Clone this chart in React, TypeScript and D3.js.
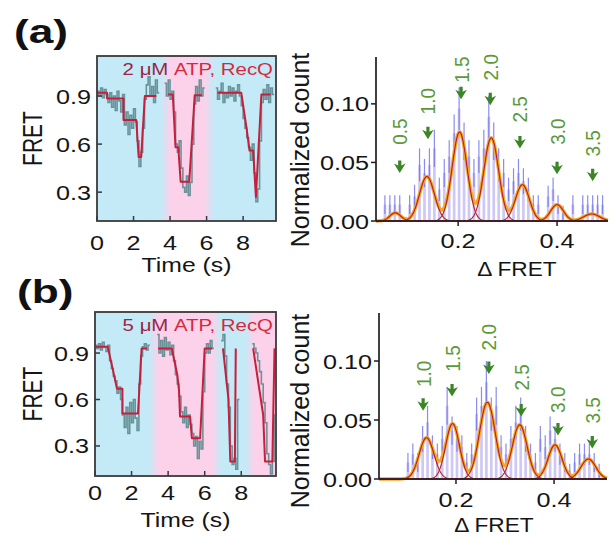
import React from "react";
import * as d3 from "d3";

const FONT = "'Liberation Sans', Arial, Helvetica, sans-serif";

// ---------------- DATA ----------------
const timeTicks = [0, 2, 4, 6, 8];
const fretTicks = [0.3, 0.6, 0.9];
const countTicks = [0, 0.05, 0.1];
const countTickLabels = ["0.00", "0.05", "0.10"];
const dfretTicks = [0.2, 0.4];
const DT = 0.1;

// background bands (time, s): c = cyan, p = pink
const bandsA = [
  { from: 0, to: 3.75, kind: "c" },
  { from: 3.75, to: 6.15, kind: "p" },
  { from: 6.15, to: 9.8, kind: "c" },
];
const bandsB = [
  { from: 0, to: 3.2, kind: "c" },
  { from: 3.2, to: 6.65, kind: "p" },
  { from: 6.65, to: 8.45, kind: "c" },
  { from: 8.45, to: 9.9, kind: "p" },
];

// raw FRET traces (segments starting at t0, sampled every DT)
const rawA = [
  { t0: 0, v: [0.93, 0.9, 0.95, 0.89, 0.94, 0.91, 0.86, 0.92, 0.83, 0.9, 0.81, 0.93, 0.87, 0.8, 0.91, 0.72, 0.8, 0.66, 0.78, 0.7, 0.82, 0.74, 0.62, 0.46, 0.55, 0.7, 0.88, 0.97, 1.02, 0.9, 0.96, 0.86, 1.0, 0.92] },
  { t0: 3.7, v: [0.98, 0.9, 1.0, 0.88, 0.93, 0.8, 0.6, 0.55, 0.62, 0.45, 0.33, 0.3, 0.4, 0.28, 0.36, 0.6, 0.85, 0.96, 0.87, 1.0, 0.9, 0.95] },
  { t0: 6.5, v: [0.95, 0.88, 0.93, 0.98, 0.86, 0.92, 0.89, 0.96, 0.9, 0.95, 0.87, 0.93, 0.97, 0.9, 0.84, 0.76, 0.7, 0.64, 0.58, 0.5, 0.6, 0.42, 0.24, 0.32, 0.62, 0.86, 0.94, 0.88, 0.97, 0.86, 0.95, 0.91] },
];
const rawB = [
  { t0: 0, v: [0.95, 0.93, 0.96, 0.92, 0.97, 0.94, 0.91, 0.95, 0.85, 0.8, 0.75, 0.72, 0.64, 0.68, 0.6, 0.5, 0.42, 0.55, 0.38, 0.58, 0.45, 0.6, 0.48, 0.4, 0.7, 0.88, 0.94, 0.96, 0.92, 0.95] },
  { t0: 3.4, v: [1.02, 0.9, 0.98, 0.88, 1.0, 0.92, 0.97, 0.89, 0.95, 0.85, 0.76, 0.7, 0.62, 0.52, 0.45, 0.55, 0.42, 0.5, 0.44, 0.38, 0.3, 0.36, 0.22, 0.33, 0.28, 0.65, 0.9, 0.96, 0.9, 0.98, 0.93] },
  { t0: 6.9, v: [0.98, 1.02, 0.88, 0.7, 0.55, 0.3, 0.18, 0.22, 0.15, 0.6] },
  { t0: 8.6, v: [0.96, 0.93, 0.9, 0.85, 0.78, 0.7, 0.58, 0.45, 0.25, 0.18, 0.12, 0.2, 0.5] },
];

// step fits [time, FRET]
const fitA: [number, number][][] = [
  [[0, 0.92], [0.55, 0.92], [0.55, 0.885], [1.45, 0.885], [1.45, 0.75], [2.15, 0.75], [2.28, 0.52], [2.42, 0.52], [2.62, 0.9], [3.25, 0.9]],
  [[3.9, 0.91], [4.15, 0.91], [4.3, 0.58], [4.45, 0.58], [4.58, 0.365], [5.05, 0.365], [5.35, 0.905], [5.75, 0.905]],
  [[6.6, 0.92], [7.9, 0.92], [8.2, 0.69], [8.35, 0.56], [8.55, 0.56], [8.7, 0.27], [9.0, 0.91], [9.5, 0.91]],
];
const fitB: [number, number][][] = [
  [[0.05, 0.94], [0.7, 0.94], [1.0, 0.78], [1.2, 0.67], [1.5, 0.67], [1.5, 0.51], [2.35, 0.51], [2.55, 0.93], [2.85, 0.93]],
  [[3.45, 0.93], [4.2, 0.93], [4.5, 0.76], [4.6, 0.65], [4.65, 0.49], [5.2, 0.49], [5.3, 0.35], [5.75, 0.35], [6.0, 0.93], [6.4, 0.93]],
  [[7.0, 0.93], [7.3, 0.6], [7.4, 0.2], [7.65, 0.2], [7.7, 0.93]],
  [[8.65, 0.93], [9.2, 0.5], [9.3, 0.2], [9.7, 0.2], [9.82, 0.93]],
];

// histograms (bin centres 0.042 ... 0.492, width 0.01)
const binStart = 0.042;
const binWidth = 0.01;
const histA = [0, 0.014, 0.014, 0.014, 0.014, 0, 0.014, 0.021, 0.048, 0.041, 0.048, 0.062, 0.027, 0.041, 0.055, 0.075, 0.096, 0.068, 0.055, 0.041, 0.055, 0.062, 0.089, 0.068, 0.048, 0.041, 0.027, 0.034, 0.041, 0.034, 0.027, 0.014, 0.014, 0, 0.021, 0.027, 0.014, 0.007, 0, 0.014, 0, 0.014, 0.014, 0.014, 0.014, 0.014];
const errA = [0, 0.008, 0.008, 0.008, 0.008, 0, 0.008, 0.01, 0.014, 0.012, 0.014, 0.016, 0.01, 0.012, 0.014, 0.016, 0.018, 0.016, 0.014, 0.012, 0.014, 0.016, 0.018, 0.016, 0.014, 0.012, 0.01, 0.011, 0.012, 0.011, 0.01, 0.008, 0.008, 0, 0.009, 0.01, 0.008, 0.006, 0, 0.008, 0, 0.008, 0.008, 0.008, 0.008, 0.008];
const histB = [0, 0, 0, 0, 0, 0, 0.014, 0.021, 0.014, 0.034, 0.048, 0.027, 0.021, 0.034, 0.062, 0.041, 0.034, 0.027, 0.014, 0.021, 0.055, 0.062, 0.082, 0.055, 0.062, 0.027, 0.021, 0.034, 0.048, 0.055, 0.034, 0.021, 0.014, 0.034, 0.027, 0.041, 0.034, 0.021, 0.014, 0.007, 0.014, 0.021, 0.021, 0.021, 0.014, 0.007];
const errB = [0, 0, 0, 0, 0, 0, 0.008, 0.009, 0.008, 0.011, 0.014, 0.01, 0.009, 0.011, 0.016, 0.012, 0.011, 0.01, 0.008, 0.009, 0.014, 0.016, 0.018, 0.014, 0.016, 0.01, 0.009, 0.011, 0.014, 0.014, 0.011, 0.009, 0.008, 0.011, 0.01, 0.012, 0.011, 0.009, 0.008, 0.006, 0.008, 0.009, 0.009, 0.009, 0.008, 0.006];

// Gaussian fit parameters
const peakCA = [0.073, 0.137, 0.203, 0.267, 0.33, 0.4, 0.47];
const peakAA = [0.007, 0.038, 0.076, 0.071, 0.031, 0.014, 0.006];
const peakSA = [0.011, 0.015, 0.015, 0.015, 0.014, 0.013, 0.016];
const peakCB = [0.14, 0.193, 0.264, 0.33, 0.402, 0.47];
const peakAB = [0.035, 0.047, 0.065, 0.046, 0.029, 0.017];
const peakSB = [0.015, 0.014, 0.016, 0.015, 0.014, 0.015];

// step-size annotations (bp)
const stepLabelsA = ["0.5", "1.0", "1.5", "2.0", "2.5", "3.0", "3.5"];
const arrowXA = [0.082, 0.139, 0.206, 0.265, 0.325, 0.4, 0.472];
const arrowYA = [0.046, 0.075, 0.109, 0.104, 0.067, 0.045, 0.039];
const labelYA = [0.065, 0.091, 0.118, 0.12, 0.084, 0.065, 0.055];
const stepLabelsB = ["1.0", "1.5", "2.0", "2.5", "3.0", "3.5"];
const arrowXB = [0.133, 0.192, 0.267, 0.333, 0.408, 0.478];
const arrowYB = [0.063, 0.075, 0.094, 0.058, 0.042, 0.031];
const labelYB = [0.078, 0.091, 0.109, 0.075, 0.056, 0.047];

// ---------------- STYLE / LAYOUT ----------------
const CYAN = "#c3eaf6";
const PINK = "#fbd2ea";
const RAW = "#5e8a90";
const FIT = "#c81e3c";
const BAR = "#cbc5f4";
const ERR = "#6e70ee";
const SUM = "#f5a623";
const GAUSS = "#b81c28";
const ARROW = "#3c8526";
const GLABEL = "#5b9a38";

type TP = {
  x: number; y: number; size: number; anchor?: string; rot?: number; sx?: number;
  color?: string; weight?: string; children?: React.ReactNode;
};
function T({ x, y, size, anchor = "middle", rot = 0, sx = 1, color = "#151515", weight = "normal", children }: TP) {
  return (
    <text
      transform={`translate(${x},${y}) scale(${sx},1)${rot ? ` rotate(${rot})` : ""}`}
      fontSize={size}
      textAnchor={anchor}
      fill={color}
      fontWeight={weight}
      fontFamily={FONT}
    >
      {children}
    </text>
  );
}

type Seg = { t0: number; v: number[] };

function Trace({ id, L, raw, fit, bands, xMax, yDom, conc, xLabBase, timeBase }: any) {
  const x = d3.scaleLinear().domain([0, xMax]).range([L.left, L.right]);
  const y = d3.scaleLinear().domain(yDom).range([L.bottom, L.top]);
  const rawLine = d3.line<[number, number]>().x((d) => x(d[0])).y((d) => y(d[1])).curve(d3.curveStepAfter);
  const fitLine = d3.line<[number, number]>().x((d) => x(d[0])).y((d) => y(d[1]));
  const W = L.right - L.left;
  const blend = 5;
  const stops: { o: number; c: string }[] = [];
  bands.forEach((b: any) => {
    const c = b.kind === "c" ? CYAN : PINK;
    stops.push({ o: Math.max(0, (x(b.from) + blend - L.left) / W), c });
    stops.push({ o: Math.min(1, (x(b.to) - blend - L.left) / W), c });
  });
  return (
    <g>
      <defs>
        <linearGradient id={`bg${id}`} gradientUnits="userSpaceOnUse" x1={L.left} x2={L.right} y1={0} y2={0}>
          {stops.map((s, i) => (
            <stop key={i} offset={s.o} stopColor={s.c} />
          ))}
        </linearGradient>
        <clipPath id={`clip${id}`}>
          <rect x={L.left} y={L.top} width={W} height={L.bottom - L.top} />
        </clipPath>
      </defs>
      <rect x={L.left} y={L.top} width={W} height={L.bottom - L.top} fill={`url(#bg${id})`} />
      <g clipPath={`url(#clip${id})`}>
        {raw.map((s: Seg, i: number) => {
          const pts: [number, number][] = s.v.map((v, k) => [s.t0 + k * DT, v]);
          pts.push([s.t0 + s.v.length * DT, s.v[s.v.length - 1]]);
          return <path key={i} d={rawLine(pts) || ""} fill="none" stroke={RAW} strokeWidth={1.6} opacity={0.9} />;
        })}
        {fit.map((f: [number, number][], i: number) => (
          <path key={i} d={fitLine(f) || ""} fill="none" stroke={FIT} strokeWidth={2} strokeLinejoin="round" />
        ))}
      </g>
      <text x={L.right - 3} y={L.top + 19} fontSize={17} textAnchor="end" fontFamily={FONT} transform={`translate(${-(L.right - 3) * 0.2},0) scale(1.2,1)`}>
        <tspan fill="#9c2448">{conc} μM </tspan>
        <tspan fill="#d8283c">ATP, RecQ</tspan>
      </text>
      <rect x={L.left} y={L.top} width={W} height={L.bottom - L.top} fill="none" stroke="#3a3a3a" strokeWidth={1.8} />
      {fretTicks.map((t) => (
        <g key={t}>
          <line x1={L.left} x2={L.left + 5} y1={y(t)} y2={y(t)} stroke="#3a3a3a" strokeWidth={1.5} />
          <T x={L.left - 6} y={y(t) + 7.5} size={21} anchor="end" sx={1.2}>{t.toFixed(1)}</T>
        </g>
      ))}
      {timeTicks.map((t) => (
        <g key={t}>
          <line x1={x(t)} x2={x(t)} y1={L.bottom} y2={L.bottom - 5} stroke="#3a3a3a" strokeWidth={1.5} />
          <T x={x(t)} y={xLabBase} size={21} sx={1.2}>{String(t)}</T>
        </g>
      ))}
      <T x={42} y={(L.top + L.bottom) / 2} size={21} rot={-90} sx={1.35}>FRET</T>
      <T x={(L.left + L.right) / 2} y={timeBase} size={21} sx={1.18}>Time (s)</T>
    </g>
  );
}

function Arrow({ cx, cy }: { cx: number; cy: number }) {
  const d = "M-1.6,-6.5 L1.6,-6.5 L1.6,-1.5 L5.8,-3.5 L0,6 L-5.8,-3.5 L-1.6,-1.5 Z";
  return <path d={d} transform={`translate(${cx},${cy})`} fill={ARROW} />;
}

function Hist({ L, xDom, yTop, vals, errs, pc, pa, ps, labels, ax, ay, ly, dfBase, dfX, dfTitle, ylabY }: any) {
  const x = d3.scaleLinear().domain(xDom).range([L.left, L.right]);
  const y = d3.scaleLinear().domain([0, yTop]).range([L.bottom, L.top]);
  const xs = d3.range(xDom[0], xDom[1], 0.0015).concat([xDom[1]]);
  const g = (xx: number, k: number) => pa[k] * Math.exp(-((xx - pc[k]) ** 2) / (2 * ps[k] ** 2));
  const line = d3.line<[number, number]>().x((d) => x(d[0])).y((d) => y(d[1])).curve(d3.curveLinear);
  const sumPts: [number, number][] = xs.map((xx) => [xx, d3.sum(pc, (_: number, k: number) => g(xx, k))]);
  const bw = 2.7;
  return (
    <g>
      {vals.map((v: number, i: number) => {
        const c = binStart + i * binWidth;
        if (v <= 0) return null;
        return <rect key={i} x={x(c) - bw / 2} y={y(v)} width={bw} height={L.bottom - y(v)} fill={BAR} opacity={0.95} />;
      })}
      {vals.map((v: number, i: number) => {
        const c = binStart + i * binWidth;
        if (v <= 0) return null;
        return <line key={i} x1={x(c)} x2={x(c)} y1={y(v + errs[i])} y2={y(Math.max(0, v - errs[i]))} stroke={ERR} strokeWidth={1.2} opacity={0.8} />;
      })}
      <path d={line(sumPts) || ""} fill="none" stroke={SUM} strokeWidth={3.4} strokeLinejoin="round" />
      {pc.map((_: number, k: number) => (
        <path key={k} d={line(xs.map((xx) => [xx, g(xx, k)] as [number, number])) || ""} fill="none" stroke={GAUSS} strokeWidth={1.1} />
      ))}
      <line x1={L.left} x2={L.left} y1={L.top} y2={L.bottom} stroke="#1e1e1e" strokeWidth={1.7} />
      <line x1={L.left} x2={L.right} y1={L.bottom} y2={L.bottom} stroke="#1e1e1e" strokeWidth={1.7} />
      {countTicks.map((t, i) => (
        <g key={t}>
          <line x1={L.left - 5} x2={L.left} y1={y(t)} y2={y(t)} stroke="#1e1e1e" strokeWidth={1.5} />
          <T x={L.left - 7} y={y(t) + 7.5} size={21} anchor="end" sx={1.2}>{countTickLabels[i]}</T>
        </g>
      ))}
      {dfretTicks.map((t) => (
        <g key={t}>
          <line x1={x(t)} x2={x(t)} y1={L.bottom} y2={L.bottom + 5} stroke="#1e1e1e" strokeWidth={1.5} />
          <T x={x(t)} y={dfBase} size={21} sx={1.2}>{t.toFixed(1)}</T>
        </g>
      ))}
      {labels.map((s: string, k: number) => (
        <g key={s}>
          <Arrow cx={x(ax[k])} cy={y(ay[k])} />
          <T x={x(ax[k]) + 7.5} y={y(ly[k])} size={19} anchor="start" rot={-90} sx={1.1} color={GLABEL}>{s}</T>
        </g>
      ))}
      <T x={309} y={ylabY} size={25} rot={-90} sx={1.05}>Normalized count</T>
      <T x={dfX} y={dfTitle} size={21} sx={1.08}>Δ FRET</T>
    </g>
  );
}

export default function App() {
  return (
    <svg width={614} height={539} viewBox="0 0 614 539" style={{ position: "absolute", left: 0, top: 0, background: "#fff" }}>
      <rect x={0} y={0} width={614} height={539} fill="#fff" />
      <T x={14} y={43} size={34} anchor="start" sx={1.3} weight="bold" color="#111">(a)</T>
      <T x={17} y={303} size={34} anchor="start" sx={1.3} weight="bold" color="#111">(b)</T>
      <Trace id="A" L={{ left: 97, right: 276, top: 56, bottom: 221 }} raw={rawA} fit={fitA} bands={bandsA}
        xMax={9.8} yDom={[0.12, 1.15]} conc="2" xLabBase={250} timeBase={272} />
      <Trace id="B" L={{ left: 95, right: 276, top: 312, bottom: 476 }} raw={rawB} fit={fitB} bands={bandsB}
        xMax={9.9} yDom={[0.106, 1.165]} conc="5" xLabBase={500} timeBase={527} />
      <Hist L={{ left: 376, right: 608, top: 57, bottom: 221 }} xDom={[0.034, 0.503]} yTop={0.14}
        vals={histA} errs={errA} pc={peakCA} pa={peakAA} ps={peakSA}
        labels={stepLabelsA} ax={arrowXA} ay={arrowYA} ly={labelYA} dfBase={248} dfX={517} dfTitle={276} ylabY={150} />
      <Hist L={{ left: 379, right: 607, top: 313, bottom: 479 }} xDom={[0.043, 0.508]} yTop={0.1407}
        vals={histB} errs={errB} pc={peakCB} pa={peakAB} ps={peakSB}
        labels={stepLabelsB} ax={arrowXB} ay={arrowYB} ly={labelYB} dfBase={507} dfX={494} dfTitle={532} ylabY={411} />
    </svg>
  );
}
